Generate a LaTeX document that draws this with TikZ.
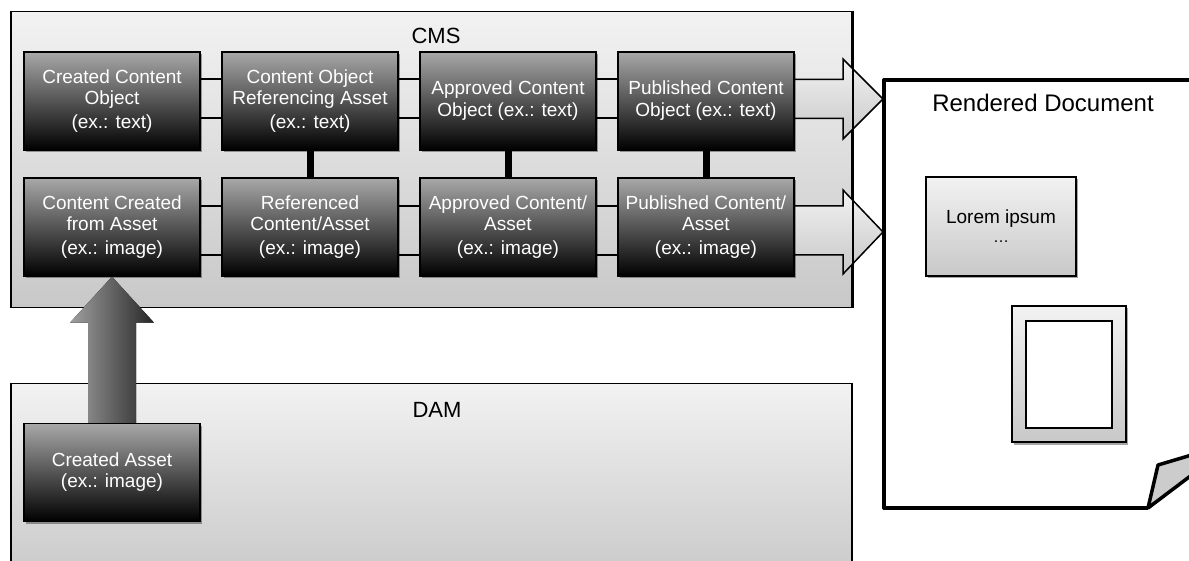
\documentclass[tikz,border=0pt]{standalone}
\usepackage{fontspec}
\setmainfont{Liberation Sans}
\usetikzlibrary{shadows}
\definecolor{paneltop}{RGB}{242,242,242}
\definecolor{panelbot}{RGB}{200,200,200}
\definecolor{stagetop}{RGB}{168,168,168}
\definecolor{stagebot}{RGB}{0,0,0}
\begin{document}
\begin{tikzpicture}[x=1pt,y=1pt,
  panel/.style={draw=black, line width=1.5pt, top color=paneltop, bottom color=panelbot, inner sep=0pt},
  paneltitle/.style={font=\fontsize{22}{24}\selectfont, text=black, inner sep=0pt},
  stagebox/.style={draw=black, line width=1.3pt, top color=stagetop, bottom color=stagebot,
    minimum width=176, minimum height=98, inner sep=0pt, text=white, align=center,
    font=\fontsize{19}{21}\selectfont,
    drop shadow={shadow xshift=1.5pt, shadow yshift=-2.5pt, opacity=0.35, fill=black}},
  link/.style={draw=black, line width=1.5pt},
  pairlink/.style={draw=black, line width=7pt},
  flowarrow/.style={draw=black, line width=1.5pt, line join=miter, top color=paneltop, bottom color=panelbot},
  lightbox/.style={draw=black, line width=1.5pt, top color=paneltop, bottom color=panelbot, inner sep=0pt,
    drop shadow={shadow xshift=1.5pt, shadow yshift=-2.5pt, opacity=0.35, fill=black}},
]
\useasboundingbox (0,0) rectangle (1189,-561);
\clip (0,0) rectangle (1189,-561);

% containers
\node[panel, minimum width=841, minimum height=296] (cms) at (431.5,-159.5) {};
\node[panel, minimum width=841, minimum height=200] (dam) at (431.5,-483.5) {};
\node[paneltitle] (cmslabel) at (436,-36) {CMS};
\node[paneltitle] (damlabel) at (437,-410) {DAM};

% rendered document page with curled corner
\coordinate (d1) at (883,-99);
\coordinate (d2) at (883,-232);
\draw[line width=4pt, line join=round] (1200,-80) -- (884,-80) -- (884,-508) -- (1148,-508);
\filldraw[fill=gray!40, draw=black, line width=3.5pt, line join=round]
  (1148,-508) -- (1158,-465) -- (1205,-451) -- (1205,-465) -- cycle;
\node[font=\fontsize{24}{26}\selectfont, inner sep=0pt] (doctitle) at (1043,-103) {Rendered Document};
\node[lightbox, minimum width=150, minimum height=99, align=center, font=\fontsize{19}{21}\selectfont] (lorem) at (1001,-226.5) {Lorem ipsum\\[-2pt]\fontsize{16}{18}\selectfont\textellipsis};
\node[lightbox, minimum width=114, minimum height=136] (frame) at (1069,-374) {};
\node[draw=black, line width=1.5pt, fill=white, minimum width=86, minimum height=107, inner sep=0pt] (pic) at (1069,-374.5) {};

% flow arrows into the document
\filldraw[flowarrow] (d1) -- ++(-40,40) -- ++(0,-20.5) -- ++(-49,0) -- ++(0,-39) -- ++(49,0) -- ++(0,-20.5) -- cycle;
\filldraw[flowarrow] (d2) -- ++(-40,42) -- ++(0,-16) -- ++(-49,0) -- ++(0,-49) -- ++(49,0) -- ++(0,-19) -- cycle;
\draw[black, line width=1.5pt] (cms.north east) -- (cms.south east);

% content object row
\node[stagebox] (c11) at (112,-101) {Created Content\\Object\\[3pt](ex.: text)};
\node[stagebox] (c12) at (310,-101) {Content Object\\Referencing Asset\\[3pt](ex.: text)};
\node[stagebox] (c13) at (508,-101) {Approved Content\\[1pt]Object (ex.: text)};
\node[stagebox] (c14) at (706,-101) {Published Content\\[1pt]Object (ex.: text)};

% asset row
\node[stagebox] (c21) at (112,-227) {Content Created\\from Asset\\[3pt](ex.: image)};
\node[stagebox] (c22) at (310,-227) {Referenced\\Content/Asset\\[3pt](ex.: image)};
\node[stagebox] (c23) at (508,-227) {Approved Content/\\Asset\\[3pt](ex.: image)};
\node[stagebox] (c24) at (706,-227) {Published Content/\\Asset\\[3pt](ex.: image)};

% horizontal links
\foreach \a/\b in {c11/c12, c12/c13, c13/c14} {
  \draw[link] ([yshift=22pt]\a.east) -- ([yshift=22pt]\b.west);
  \draw[link] ([yshift=-17pt]\a.east) -- ([yshift=-17pt]\b.west);
}
\foreach \a/\b in {c21/c22, c22/c23, c23/c24} {
  \draw[link] ([yshift=21pt]\a.east) -- ([yshift=21pt]\b.west);
  \draw[link] ([yshift=-28pt]\a.east) -- ([yshift=-28pt]\b.west);
}

% vertical pair links
\draw[pairlink] (c12.south) -- (c22.north);
\draw[pairlink] (c13.south) -- (c23.north);
\draw[pairlink] (c14.south) -- (c24.north);

% asset creation in the DAM and the upward transfer
\node[stagebox] (ca) at (112,-472.5) {Created Asset\\(ex.: image)};
\fill[left color=gray!75, right color=black!85]
  ([xshift=-24pt]ca.north) -- ([xshift=-24pt,yshift=-46pt]c21.south) -- ([xshift=-42pt,yshift=-46pt]c21.south)
  -- (c21.south) -- ([xshift=42pt,yshift=-46pt]c21.south) -- ([xshift=24pt,yshift=-46pt]c21.south)
  -- ([xshift=24pt]ca.north) -- cycle;
\end{tikzpicture}
\end{document}
